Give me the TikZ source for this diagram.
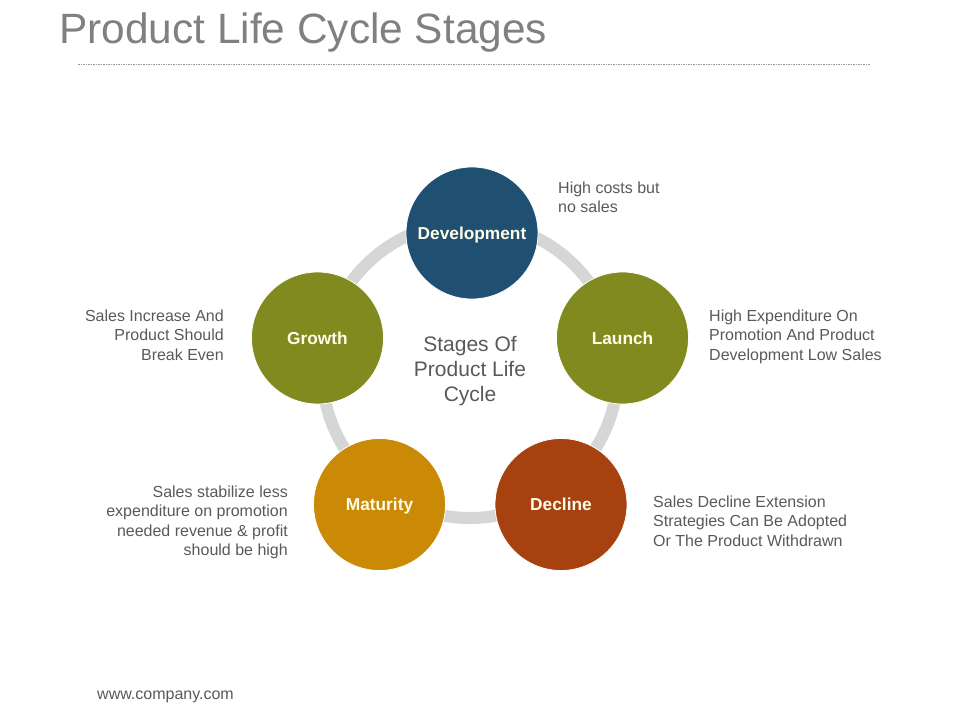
\documentclass[tikz,border=0pt]{standalone}
\usepackage{fontspec}
\setmainfont{Liberation Sans}
\definecolor{devblue}{RGB}{31,79,113}
\definecolor{olive}{RGB}{128,138,30}
\definecolor{gold}{RGB}{202,138,6}
\definecolor{rust}{RGB}{167,66,16}
\definecolor{ringgray}{RGB}{214,214,214}
\definecolor{titlegray}{RGB}{128,128,128}
\definecolor{txtgray}{RGB}{89,89,89}
\definecolor{labelwhite}{RGB}{255,253,232}
\tikzset{
  stage/.style={circle, draw=white, line width=0.8pt, minimum size=132pt, inner sep=0pt,
    text=labelwhite, font=\fontsize{17.3}{20}\selectfont\bfseries, text height=12.4pt, text depth=0pt},
  desc/.style={inner sep=0pt, text=txtgray, font=\fontsize{16}{19.5}\selectfont},
  ringline/.style={draw=ringgray, line width=12pt},
}
\begin{document}
\begin{tikzpicture}[x=1pt,y=-1pt]
\useasboundingbox (0,0) rectangle (960,720);
% title
\node[anchor=base west, inner sep=0pt, text=titlegray, font=\fontsize{42.4}{48}\selectfont] (title) at (59,43) {Product Life Cycle Stages};
\coordinate (rl) at (78,64);
\coordinate (rr) at (870,64);
\draw[titlegray!80, line width=0.7pt, dash pattern=on 1.5pt off 1pt] (rl) -- (rr);
% ring
\coordinate (ringc) at (470,370);
\draw[ringline] (ringc) circle (148pt);
% stages
\node[stage, fill=devblue] (dev) at (472,233) {Development};
\node[stage, fill=olive] (launch) at (622.5,338) {Launch};
\node[stage, fill=rust] (decline) at (561,504.5) {Decline};
\node[stage, fill=gold] (maturity) at (379.5,504.5) {Maturity};
\node[stage, fill=olive] (growth) at (317.5,338) {Growth};
% center text
\node[inner sep=0pt, anchor=north, align=center, text=txtgray, font=\fontsize{21}{25}\selectfont] (center) at (470,336.5) {Stages Of\\Product Life\\Cycle};
% descriptions
\node[desc, anchor=north west, align=left] (ddev) at (558,181.3) {High costs but\\no sales};
\node[desc, anchor=north west, align=left] (dlaunch) at (709,309.3) {High Expenditure On\\Promotion And Product\\Development Low Sales};
\node[desc, anchor=north west, align=left] (ddecline) at (653,495.3) {Sales Decline Extension\\Strategies Can Be Adopted\\Or The Product Withdrawn};
\node[desc, anchor=north east, align=right] (dmaturity) at (288,485.3) {Sales stabilize less\\expenditure on promotion\\needed revenue \& profit\\should be high};
\node[desc, anchor=north east, align=right] (dgrowth) at (224,309.3) {Sales Increase And\\Product Should\\Break Even};
% footer
\node[desc, anchor=base west] (url) at (97,699.5) {www.company.com};
\end{tikzpicture}
\end{document}
